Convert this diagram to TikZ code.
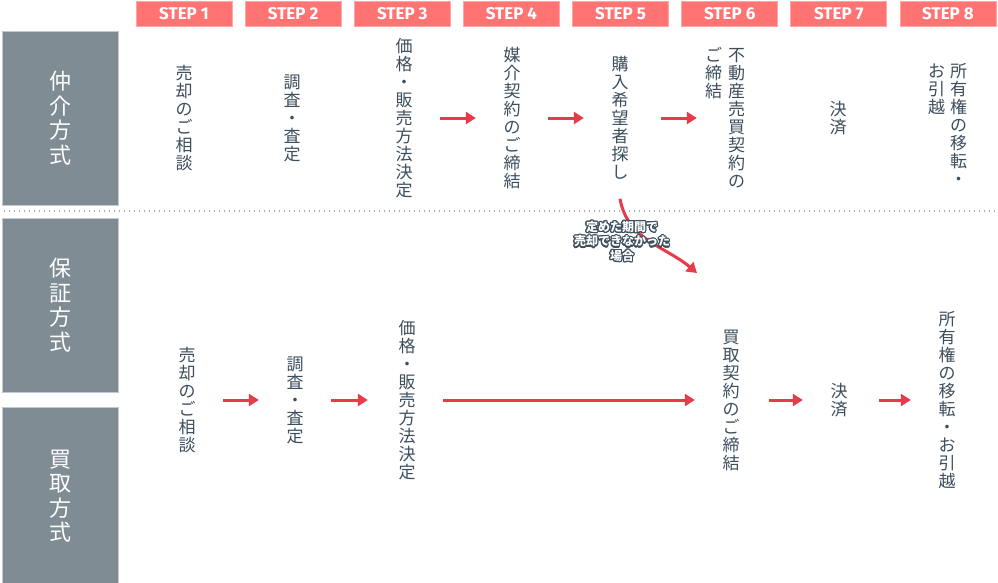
\documentclass[tikz,border=0pt]{standalone}
\usepackage{fontspec}
\usepackage{contour}
\usetikzlibrary{positioning,arrows.meta}

\newfontfamily\jp{Noto Sans CJK JP}
\newfontfamily\pasofont{Fira Sans}

\definecolor{rojopaso}{RGB}{255,115,115}
\definecolor{bordepaso}{RGB}{255,165,165}
\definecolor{grismetodo}{RGB}{127,140,148}
\definecolor{bordemetodo}{RGB}{192,201,207}
\definecolor{textoetapa}{RGB}{60,78,92}
\definecolor{rojoflecha}{RGB}{232,58,72}
\definecolor{grispuntos}{RGB}{165,172,178}

\contourlength{1.1pt}
\contournumber{20}

% una columna de texto vertical (un caracter por linea)
\newcommand{\columna}[1]{\begin{minipage}[t]{1em}\centering #1\end{minipage}}

\begin{document}
\begin{tikzpicture}[
    x=1pt, y=-1pt,
    node distance=13.14pt,
    paso/.style={draw=bordepaso, line width=0.8pt, fill=rojopaso, text=white,
                 minimum width=96pt, minimum height=25pt, inner sep=0pt, outer sep=0pt,
                 font=\pasofont\bfseries\fontsize{17}{17}\selectfont},
    metodo/.style={draw=bordemetodo, line width=1pt, fill=grismetodo, text=white,
                   minimum width=116pt, minimum height=174pt, inner sep=0pt,
                   font=\jp\fontsize{22}{24.5}\selectfont},
    etapa/.style={text=textoetapa, minimum width=72pt, inner sep=0pt,
                  font=\jp\fontsize{17}{18}\selectfont},
    nota/.style={text=white, align=center, inner sep=0pt,
                 font=\jp\bfseries\fontsize{12}{14.5}\selectfont},
    flecha/.style={-{Triangle[length=10pt,width=12pt]}, line width=3pt, draw=rojoflecha},
    puntos/.style={draw=grispuntos, line width=1.2pt, dash pattern=on 1.2pt off 3.8pt}
]
\useasboundingbox (0,0) rectangle (998,582);

% cabecera de pasos
\node[paso] at (184,13.5) (p1) {STEP 1};
\node[paso, right=of p1]  (p2) {STEP 2};
\node[paso, right=of p2]  (p3) {STEP 3};
\node[paso, right=of p3]  (p4) {STEP 4};
\node[paso, right=of p4]  (p5) {STEP 5};
\node[paso, right=of p5]  (p6) {STEP 6};
\node[paso, right=of p6]  (p7) {STEP 7};
\node[paso, right=of p7]  (p8) {STEP 8};

% metodos
\node[metodo] at (60,118) (mediacion) {\columna{仲\\介\\方\\式}};
\node[metodo] at (60,305) (garantia)  {\columna{保\\証\\方\\式}};
\node[metodo, minimum height=178pt] at (60,496) (compra) {\columna{買\\取\\方\\式}};

\draw[puntos] (4,211) -- (998,211);

% fila superior
\node[etapa] at (184,118) (a1) {\columna{売\\却\\の\\ご\\相\\談}};
\node[etapa] at (292,118) (a2) {\columna{調\\査\\・\\査\\定}};
\node[etapa] at (404,118) (a3) {\columna{価\\格\\・\\販\\売\\方\\法\\決\\定}};
\node[etapa] at (512,118) (a4) {\columna{媒\\介\\契\\約\\の\\ご\\締\\結}};
\node[etapa] at (620,118) (a5) {\columna{購\\入\\希\\望\\者\\探\\し}};
\node[etapa] at (725,118) (a6) {\columna{ご\\締\\結}\hspace{6pt}\columna{不\\動\\産\\売\\買\\契\\約\\の}};
\node[etapa] at (838,118) (a7) {\columna{決\\済}};
\node[etapa] at (947.5,124) (a8) {\columna{お\\引\\越}\hspace{5pt}\columna{所\\有\\権\\の\\移\\転\\・}};

\draw[flecha] (a3) -- (a4);
\draw[flecha] (a4) -- (a5);
\draw[flecha, shorten <=5pt] (a5) -- ([xshift=8pt]a6.west);

% fila inferior
\node[etapa] at (187,400) (b1) {\columna{売\\却\\の\\ご\\相\\談}};
\node[etapa] at (295,400) (b2) {\columna{調\\査\\・\\査\\定}};
\node[etapa] at (407,400) (b3) {\columna{価\\格\\・\\販\\売\\方\\法\\決\\定}};
\node[etapa] at (731,400) (b6) {\columna{買\\取\\契\\約\\の\\ご\\締\\結}};
\node[etapa] at (839,400) (b7) {\columna{決\\済}};
\node[etapa] at (947,400) (b8) {\columna{所\\有\\権\\の\\移\\転\\・\\お\\引\\越}};

\draw[flecha] (b1) -- (b2);
\draw[flecha, shorten >=3pt] (b2) -- (b3);
\draw[flecha] (b3) -- (b6);
\draw[flecha, shorten <=2pt] (b6) -- (b7);
\draw[flecha, shorten <=4pt] (b7) -- (b8);

% paso al metodo de compra
\coordinate (caida) at (697,273);
\draw[flecha] ([yshift=-19pt]a5.south) to[out=-80, in=140] (caida);
\node[nota] at (622,242) (aviso)
    {\contour{textoetapa}{定めた期間で}\\\contour{textoetapa}{売却できなかった}\\\contour{textoetapa}{場合}};

\end{tikzpicture}
\end{document}
